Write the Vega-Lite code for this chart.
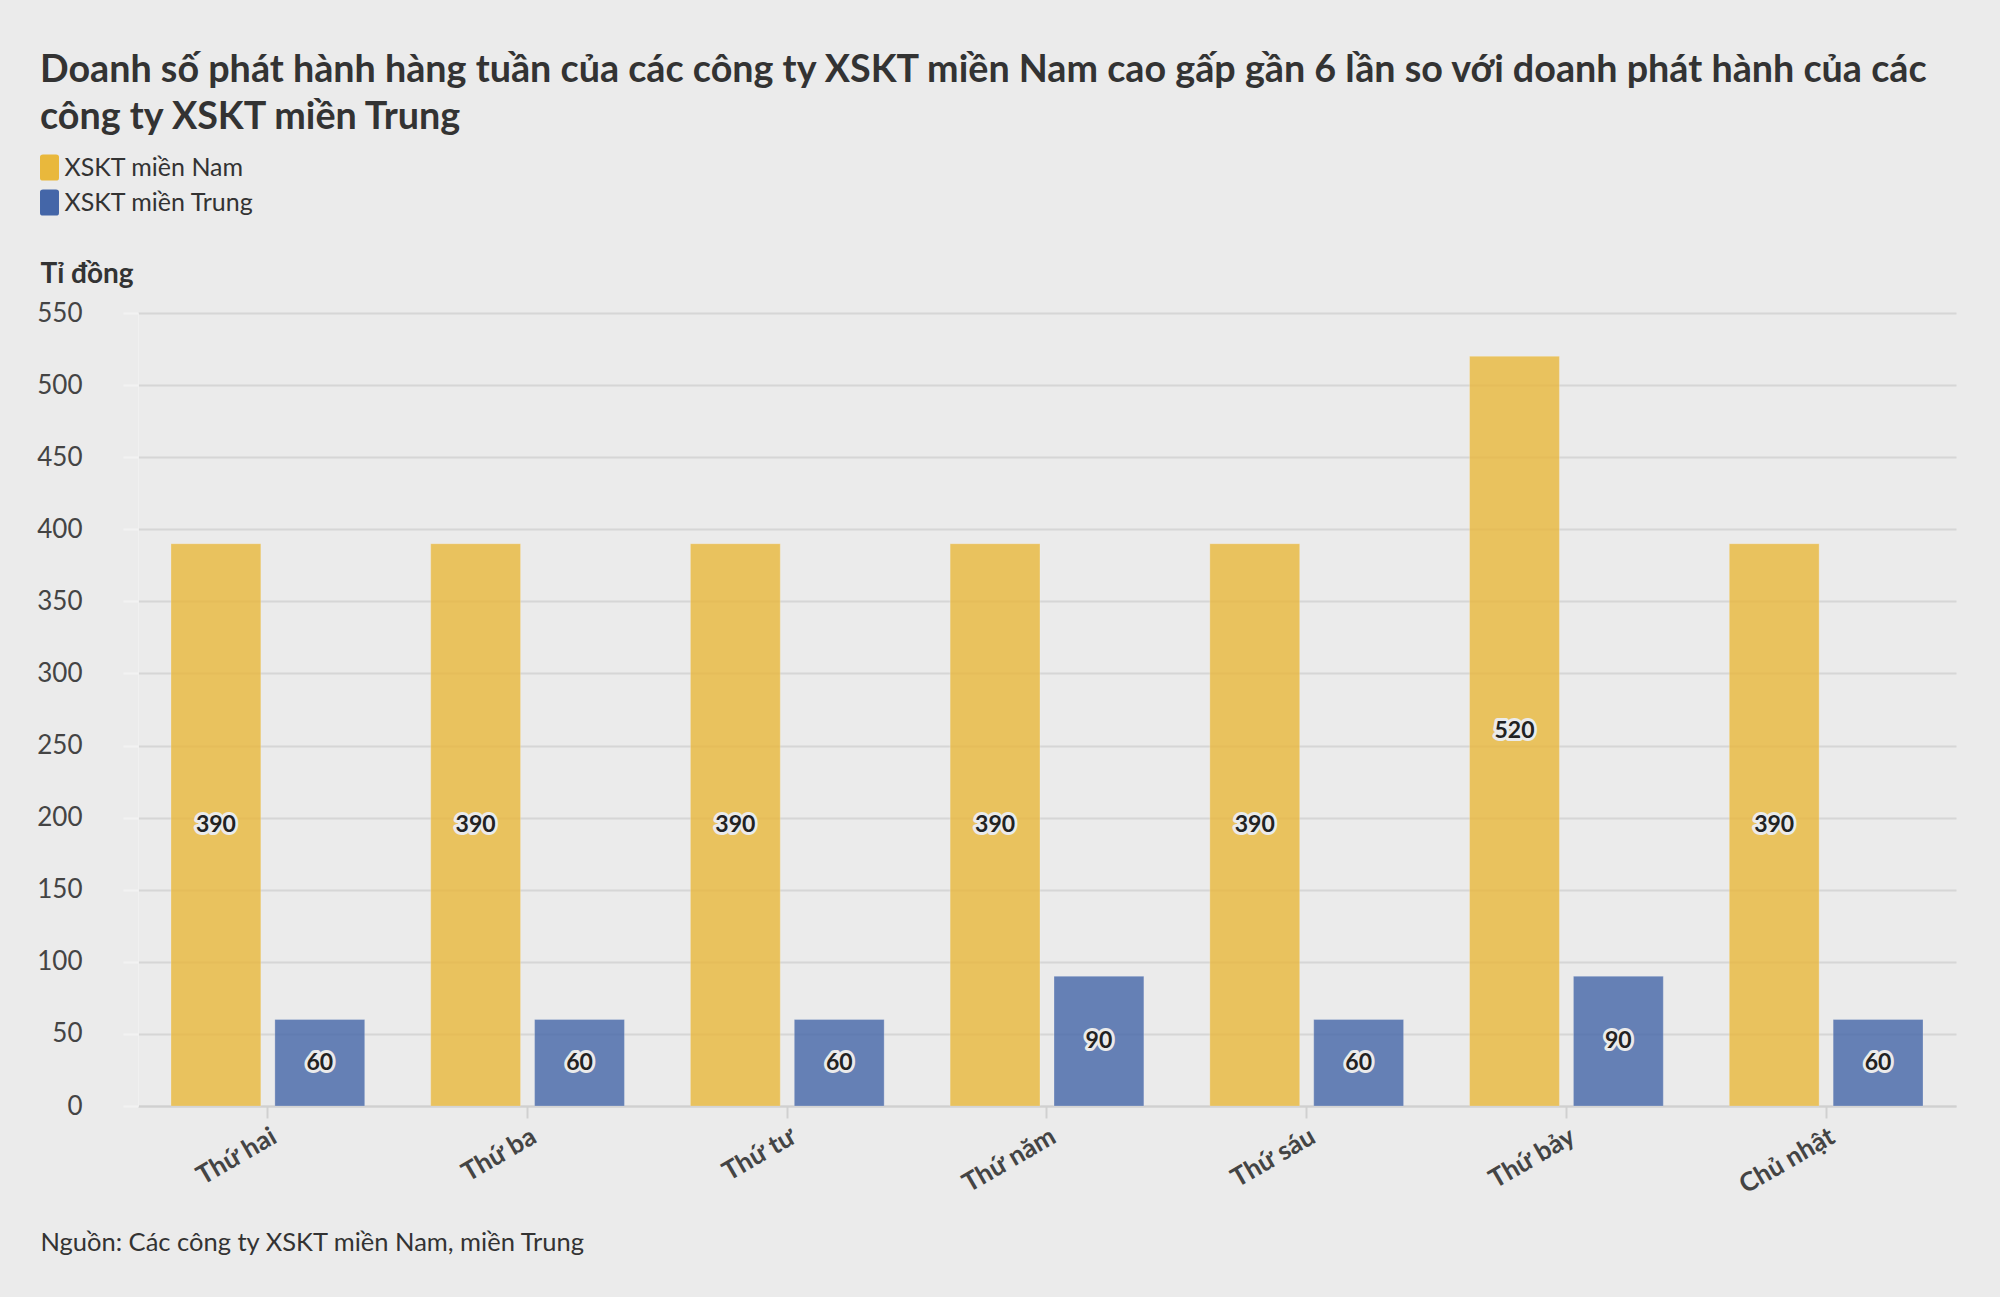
{
  "$schema": "https://vega.github.io/schema/vega-lite/v6.json",
  "width": 1818,
  "height": 793,
  "autosize": {"type": "none"},
  "padding": {"left": 138, "top": 313, "right": 44, "bottom": 191},
  "background": "#ebebeb",
  "title": {
    "text": ["Doanh số phát hành hàng tuần của các công ty XSKT miền Nam cao gấp gần 6 lần so với doanh phát hành của các", "công ty XSKT miền Trung"],
    "anchor": "start",
    "frame": "group",
    "dx": -98,
    "dy": -14,
    "font": "Lato",
    "fontSize": 37.7,
    "fontWeight": "bold",
    "color": "#333333",
    "lineHeight": 47
  },
  "data": {
    "values": [
      {"day": "Thứ hai", "series": "XSKT miền Nam", "value": 390},
      {"day": "Thứ hai", "series": "XSKT miền Trung", "value": 60},
      {"day": "Thứ ba", "series": "XSKT miền Nam", "value": 390},
      {"day": "Thứ ba", "series": "XSKT miền Trung", "value": 60},
      {"day": "Thứ tư", "series": "XSKT miền Nam", "value": 390},
      {"day": "Thứ tư", "series": "XSKT miền Trung", "value": 60},
      {"day": "Thứ năm", "series": "XSKT miền Nam", "value": 390},
      {"day": "Thứ năm", "series": "XSKT miền Trung", "value": 90},
      {"day": "Thứ sáu", "series": "XSKT miền Nam", "value": 390},
      {"day": "Thứ sáu", "series": "XSKT miền Trung", "value": 60},
      {"day": "Thứ bảy", "series": "XSKT miền Nam", "value": 520},
      {"day": "Thứ bảy", "series": "XSKT miền Trung", "value": 90},
      {"day": "Chủ nhật", "series": "XSKT miền Nam", "value": 390},
      {"day": "Chủ nhật", "series": "XSKT miền Trung", "value": 60}
    ]
  },
  "encoding": {
    "x": {
      "field": "day",
      "type": "nominal",
      "sort": null,
      "scale": {"paddingInner": 0.254, "paddingOuter": 0.127},
      "axis": {
        "title": "Nguồn: Các công ty XSKT miền Nam, miền Trung",
        "titleAnchor": "start",
        "titleAlign": "left",
        "titleBaseline": "alphabetic",
        "titleX": -98,
        "titleY": 144,
        "titleFont": "Lato",
        "titleFontSize": 25.5,
        "titleFontWeight": "normal",
        "titleColor": "#333333",
        "labelAngle": -30,
        "labelFont": "Lato",
        "labelFontSize": 26,
        "labelFontWeight": "bold",
        "labelColor": "#444444",
        "labelPadding": 5,
        "tickSize": 12,
        "tickColor": "#d0d0d0",
        "tickWidth": 2,
        "domainColor": "#d0d0d0",
        "domainWidth": 2,
        "grid": false
      }
    },
    "xOffset": {
      "field": "series",
      "type": "nominal",
      "scale": {"paddingInner": 0.135, "paddingOuter": 0}
    }
  },
  "layer": [
    {
      "mark": {"type": "bar", "opacity": 0.8, "stroke": "#ffffff", "strokeWidth": 1, "strokeOpacity": 0.25},
      "encoding": {
        "y": {
          "field": "value",
          "type": "quantitative",
          "scale": {"domain": [0, 550], "nice": false},
          "axis": {
            "values": [0, 50, 100, 150, 200, 250, 300, 350, 400, 450, 500, 550],
            "title": "Tỉ đồng",
            "titleAngle": 0,
            "titleAlign": "left",
            "titleBaseline": "alphabetic",
            "titleX": -98,
            "titleY": -31,
            "titleFont": "Lato",
            "titleFontSize": 28,
            "titleFontWeight": "bold",
            "titleColor": "#333333",
            "labelFont": "Lato",
            "labelFontSize": 26,
            "labelColor": "#444444",
            "labelPadding": 41,
            "tickSize": 15,
            "tickColor": "#f2f2f2",
            "tickWidth": 2,
            "domainColor": "#f0f0f0",
            "domainWidth": 1,
            "gridColor": "#d6d6d6",
            "gridWidth": 2
          }
        },
        "color": {
          "field": "series",
          "type": "nominal",
          "scale": {"domain": ["XSKT miền Nam", "XSKT miền Trung"], "range": ["#e9b83c", "#4466a8"]},
          "legend": {
            "title": null,
            "orient": "none",
            "legendX": -101.5,
            "legendY": -158.5,
            "direction": "vertical",
            "padding": 0,
            "symbolType": "M-0.5,-1 H0.5 Q0.73,-1 0.73,-0.8 V0.8 Q0.73,1 0.5,1 H-0.5 Q-0.73,1 -0.73,0.8 V-0.8 Q-0.73,-1 -0.5,-1 Z",
            "symbolSize": 676,
            "symbolOpacity": 1,
            "symbolStrokeWidth": 0,
            "labelFont": "Lato",
            "labelFontSize": 25,
            "labelLimit": 500,
            "labelColor": "#333333",
            "labelOffset": 2,
            "rowPadding": 9
          }
        }
      }
    },
    {
      "mark": {"type": "text", "font": "Lato", "fontSize": 23, "fontWeight": "bold", "stroke": "#ebebeb", "strokeWidth": 6, "strokeJoin": "round", "fill": "#ebebeb", "baseline": "middle"},
      "encoding": {
        "y": {"field": "value", "type": "quantitative", "scale": {"domain": [0, 1100], "nice": false}, "axis": null},
        "text": {"field": "value", "type": "quantitative"}
      }
    },
    {
      "mark": {"type": "text", "font": "Lato", "fontSize": 23, "fontWeight": "bold", "fill": "#222222", "baseline": "middle"},
      "encoding": {
        "y": {"field": "value", "type": "quantitative", "scale": {"domain": [0, 1100], "nice": false}, "axis": null},
        "text": {"field": "value", "type": "quantitative"}
      }
    }
  ],
  "resolve": {"scale": {"y": "independent"}},
  "config": {
    "view": {"stroke": null},
    "font": "Lato"
  }
}
